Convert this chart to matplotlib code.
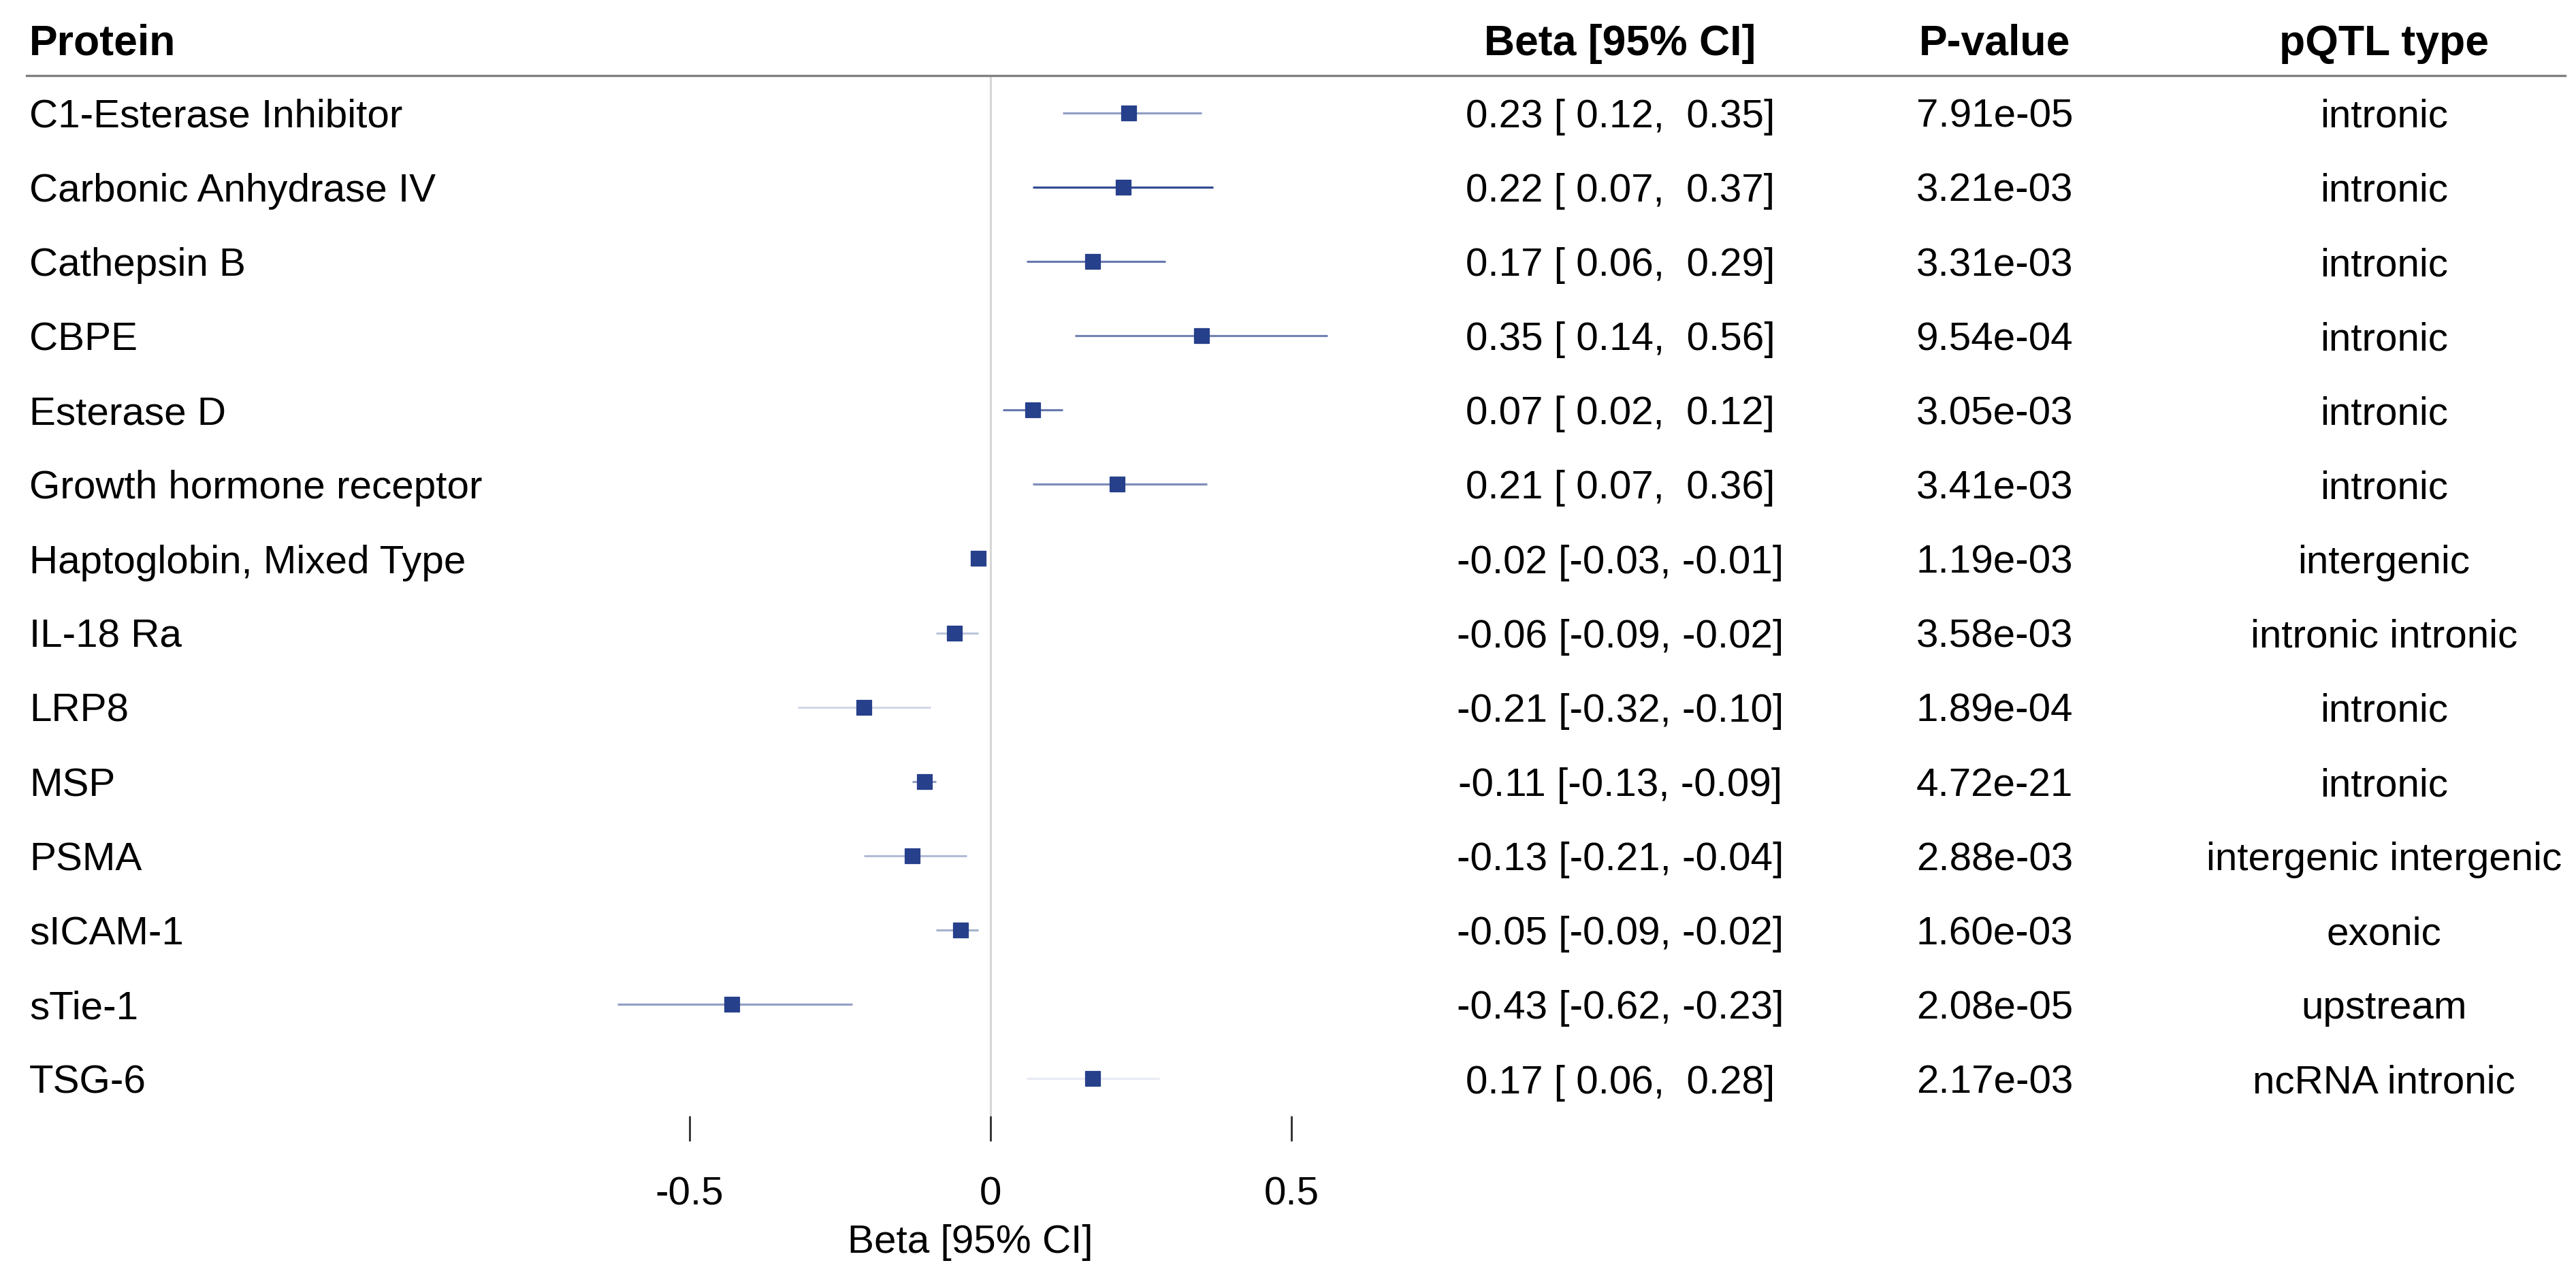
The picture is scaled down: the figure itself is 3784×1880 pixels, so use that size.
# forest_pqtl.py
# Forest plot of protein pQTL effects with a side table

import matplotlib
matplotlib.use("Agg")
import matplotlib.pyplot as plt
from matplotlib.transforms import blended_transform_factory


# ==============================
# DATA
# ==============================

proteins = [
    "C1-Esterase Inhibitor", "Carbonic Anhydrase IV", "Cathepsin B", "CBPE",
    "Esterase D", "Growth hormone receptor", "Haptoglobin, Mixed Type",
    "IL-18 Ra", "LRP8", "MSP", "PSMA", "sICAM-1", "sTie-1", "TSG-6",
]
beta = [0.23, 0.22, 0.17, 0.35, 0.07, 0.21, -0.02, -0.06, -0.21, -0.11, -0.13, -0.05, -0.43, 0.17]
ci_low = [0.12, 0.07, 0.06, 0.14, 0.02, 0.07, -0.03, -0.09, -0.32, -0.13, -0.21, -0.09, -0.62, 0.06]
ci_high = [0.35, 0.37, 0.29, 0.56, 0.12, 0.36, -0.01, -0.02, -0.10, -0.09, -0.04, -0.02, -0.23, 0.28]
p_values = [
    "7.91e-05", "3.21e-03", "3.31e-03", "9.54e-04", "3.05e-03", "3.41e-03", "1.19e-03",
    "3.58e-03", "1.89e-04", "4.72e-21", "2.88e-03", "1.60e-03", "2.08e-05", "2.17e-03",
]
pqtl_type = [
    "intronic", "intronic", "intronic", "intronic", "intronic", "intronic", "intergenic",
    "intronic intronic", "intronic", "intronic", "intergenic intergenic", "exonic",
    "upstream", "ncRNA intronic",
]
headers = ["Protein", "Beta [95% CI]", "P-value", "pQTL type"]
x_ticks = [-0.5, 0, 0.5]
x_tick_labels = ["-0.5", "0", "0.5"]

# line transparency per row, as it looks in the original
ci_alpha = [0.5, 0.95, 0.7, 0.65, 0.7, 0.6, 0.6, 0.3, 0.2, 0.5, 0.35, 0.4, 0.5, 0.1]


# ==============================
# STYLE
# ==============================

W, H, DPI = 3784, 1881, 300
BLUE = "#27408B"
FONT = ["Liberation Sans", "DejaVu Sans"]
BODY = 14
HEAD = 15

# column x positions (figure fraction)
COL_X = [43 / W, 2380 / W, 2930 / W, 3502 / W]
COL_HA = ["left", "center", "center", "center"]


def beta_text(b, lo, hi):
    return f"{b:.2f} [{lo:5.2f}, {hi:5.2f}]"


def build_plot():
    plt.rcParams["font.family"] = FONT
    fig = plt.figure(figsize=(W / DPI, H / DPI), dpi=DPI)

    left, right = 836 / W, 2014 / W
    top, bottom = 1 - 112 / H, 1 - 1640 / H
    ax = fig.add_axes([left, bottom, right - left, top - bottom])

    n = len(proteins)
    rows = list(range(n))
    ax.set_xlim(-0.70, 0.632)
    ax.set_ylim(n - 0.5, -0.5)

    # zero reference line
    ax.vlines(0, -0.5, n - 0.5, color="#d6d6d6", lw=0.75, zorder=1)

    # CIs and point estimates
    for i in rows:
        ax.plot([ci_low[i], ci_high[i]], [i, i], color=BLUE, alpha=ci_alpha[i],
                lw=0.75, solid_capstyle="butt", zorder=2)
    ax.plot(beta, rows, ls="none", marker="s", ms=5.4, color=BLUE,
            mec=BLUE, mew=0.3, zorder=3)

    for s in ax.spines.values():
        s.set_visible(False)
    ax.set_yticks([])
    ax.set_xticks(x_ticks)
    ax.set_xticklabels(x_tick_labels, fontsize=BODY)
    ax.tick_params(axis="x", length=8.9, width=0.7, color="#333333", pad=12)
    ax.set_xlabel("Beta [95% CI]", fontsize=BODY, labelpad=4)

    # table text
    tr = blended_transform_factory(fig.transFigure, ax.transData)
    off = 0.185
    for i in rows:
        cells = [proteins[i], beta_text(beta[i], ci_low[i], ci_high[i]),
                 p_values[i], pqtl_type[i]]
        for x, ha, txt in zip(COL_X, COL_HA, cells):
            ax.text(x, i + off, txt, transform=tr, ha=ha, va="baseline",
                    fontsize=BODY, clip_on=False)

    for x, ha, txt in zip(COL_X, COL_HA, headers):
        ax.text(x, -0.788, txt, transform=tr, ha=ha, va="baseline",
                fontsize=HEAD, fontweight="bold", clip_on=False)

    # header underline
    ax.plot([39 / W, 3768 / W], [-0.5, -0.5], transform=tr, color="#808080",
            lw=0.8, clip_on=False, zorder=4)

    fig.savefig("out.png", dpi=DPI)
    plt.close(fig)


if __name__ == "__main__":
    build_plot()
